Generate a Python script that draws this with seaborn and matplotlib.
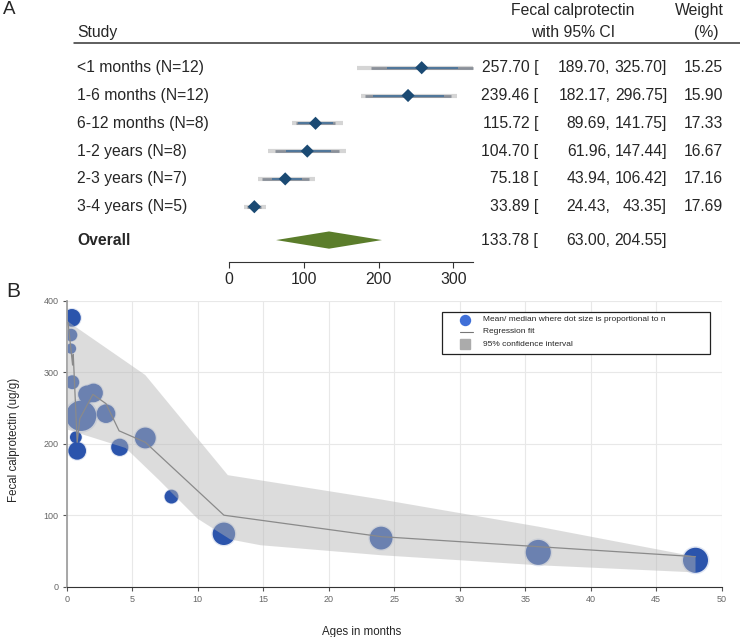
import numpy as np
import seaborn as sns
import matplotlib.pyplot as plt
from matplotlib.patches import Rectangle

sns.set_theme(style="white")
plt.rcParams["font.family"] = ["Liberation Sans", "DejaVu Sans"]

# ---- panel A: forest plot ----
studies = ["<1 months (N=12)", "1-6 months (N=12)", "6-12 months (N=8)",
           "1-2 years (N=8)", "2-3 years (N=7)", "3-4 years (N=5)"]
est = [257.70, 239.46, 115.72, 104.70, 75.18, 33.89]
ci_lo = [189.70, 182.17, 89.69, 61.96, 43.94, 24.43]
ci_hi = [325.70, 296.75, 141.75, 147.44, 106.42, 43.35]
weight = [15.25, 15.90, 17.33, 16.67, 17.16, 17.69]
# light grey outer bar and blue inner segment
outer_lo = [171, 176, 84, 52, 39, 20]
outer_hi = [327, 305, 153, 157, 115, 49]
inner_lo = [211, 193, 92, 76, 57, 27]
inner_hi = [306, 287, 139, 136, 98, 41]
overall_est, overall_lo, overall_hi = 133.78, 63.00, 204.55
forest_ticks = [0, 100, 200, 300]

# ---- panel B: calprotectin by age ----
age = [0.4, 0.33, 0.33, 0.43, 1.1, 0.7, 0.8, 1.55, 2.05, 3.0, 4.05,
       6.0, 8.0, 12.0, 24.0, 36.0, 48.0]
fc = [376, 352, 333, 286, 239, 209, 190, 269, 271, 242, 195,
      208, 126, 74, 68, 48, 37]
dot_n = [18, 9, 6, 11, 53, 8, 18, 18, 20, 20, 17, 25, 11, 29, 30, 36, 36]

fit_age = [0.1, 0.45, 0.5, 0.8, 1.0, 2.0, 3.0, 4.0, 6.0, 12, 24, 36, 48]
fit_fc = [370, 310, 325, 202, 235, 269, 256, 218, 202, 100, 70, 56, 42]

band_up_age = [0, 6, 12.3, 24, 36, 48]
band_up = [372, 296, 156, 122, 84, 42]
band_lo_age = [0, 4.5, 7, 10, 12.5, 14.8, 24, 36, 48]
band_lo = [220, 194, 150, 95, 66, 58, 44, 30, 20]

W, H = 740, 637
fig = plt.figure(figsize=(W / 100, H / 100), dpi=100)

# forest axes covers the full width; x in data units, y in row units
px_per_unit = 0.7477
x0_px = 229
row0_px, row_px = 67.7, 27.8
top_h = 290
ax_a = fig.add_axes([0, 1 - top_h / H, 1, top_h / H])
ax_a.set_xlim(-x0_px / px_per_unit, (W - x0_px) / px_per_unit)
ax_a.set_ylim((top_h - row0_px) / row_px, -row0_px / row_px)
trans = ax_a.get_yaxis_transform()
rows = np.arange(len(studies))

ax_a.hlines(rows, outer_lo, outer_hi, color="#d5d5d5", lw=3.0, zorder=1)
ax_a.hlines(rows, ci_lo, ci_hi, color="#8a9099", lw=2.0, zorder=2)
ax_a.hlines(rows, inner_lo, inner_hi, color="#3f6f9b", lw=1.1, zorder=3)
sns.scatterplot(x=est, y=rows, marker="D", s=45, color="#1b4a73",
                edgecolor="none", ax=ax_a, zorder=4, legend=False)

y_ov = 6.2
hh = 0.31
ax_a.fill([overall_lo, overall_est, overall_hi, overall_est],
          [y_ov, y_ov - hh, y_ov, y_ov + hh], color="#5b7d2b", lw=0)

fs = 11.3
for i, lab in enumerate(studies):
    ax_a.text(77 / W, i, lab, transform=trans, va="center", fontsize=fs)
    ax_a.text(538 / W, i, "%.2f [" % est[i], transform=trans, ha="right",
              va="center", fontsize=fs)
    ax_a.text(610.6 / W, i, "%.2f," % ci_lo[i], transform=trans, ha="right",
              va="center", fontsize=fs)
    ax_a.text(667 / W, i, "%.2f]" % ci_hi[i], transform=trans, ha="right",
              va="center", fontsize=fs)
    ax_a.text(723 / W, i, "%.2f" % weight[i], transform=trans, ha="right",
              va="center", fontsize=fs)
ax_a.text(77 / W, y_ov, "Overall", transform=trans, va="center",
          fontsize=fs, fontweight="bold")
ax_a.text(538 / W, y_ov, "%.2f [" % overall_est, transform=trans, ha="right",
          va="center", fontsize=fs)
ax_a.text(610.6 / W, y_ov, "%.2f," % overall_lo, transform=trans, ha="right",
          va="center", fontsize=fs)
ax_a.text(667 / W, y_ov, "%.2f]" % overall_hi, transform=trans, ha="right",
          va="center", fontsize=fs)

# headers
ax_a.text(77 / W, -1.27, "Study", transform=trans, va="center", fontsize=fs)
ax_a.text(573 / W, -2.07, "Fecal calprotectin", transform=trans, ha="center",
          va="center", fontsize=fs)
ax_a.text(573 / W, -1.27, "with 95% CI", transform=trans, ha="center",
          va="center", fontsize=fs)
ax_a.text(699.4 / W, -2.07, "Weight", transform=trans, ha="center",
          va="center", fontsize=fs)
ax_a.text(706.5 / W, -1.27, "(%)", transform=trans, ha="center",
          va="center", fontsize=fs)
ax_a.plot([74.2 / W, 1], [-0.9, -0.9], transform=trans, color="#333333",
          lw=1.1, clip_on=False)

for sp in ["top", "right", "left"]:
    ax_a.spines[sp].set_visible(False)
ax_a.spines["bottom"].set_position(("data", 7.0))
ax_a.spines["bottom"].set_bounds(0, 325.8)
ax_a.spines["bottom"].set_color("#333333")
ax_a.spines["bottom"].set_linewidth(0.8)
ax_a.set_xticks(forest_ticks)
ax_a.set_yticks([])
ax_a.tick_params(axis="x", bottom=True, direction="out", length=4, width=0.8,
                 color="#333333", labelsize=fs, pad=3)
ax_a.set_facecolor("none")

fig.text(3 / W, 1 - 10 / H, "A", fontsize=13.5, va="center", ha="left")
fig.text(6.7 / W, 1 - 291.5 / H, "B", fontsize=15, va="center", ha="left")

# ---- panel B ----
ax_b = fig.add_axes([66.7 / W, 1 - 586.7 / H, 655 / W, 286 / H])
s_max = 9.0 * max(dot_n)
# soft shadow under the dots
sns.scatterplot(x=age, y=fc, size=dot_n, sizes=(0, s_max * 1.25),
                size_norm=(0, max(dot_n)), color="#2b54ac", edgecolor="none",
                alpha=0.15, legend=False, ax=ax_b, zorder=1.9)
sns.scatterplot(x=age, y=fc, size=dot_n, sizes=(0, s_max),
                size_norm=(0, max(dot_n)), color="#2b54ac", edgecolor="none",
                legend=False, ax=ax_b, zorder=2)
ax_b.fill(np.concatenate([band_up_age, band_lo_age[::-1]]),
          np.concatenate([band_up, band_lo[::-1]]),
          color="#b6b6b6", alpha=0.465, lw=0, zorder=3)
sns.lineplot(x=fit_age, y=fit_fc, color="#8a8a8a", lw=0.9, estimator=None,
             sort=False, ax=ax_b, zorder=4)

ax_b.set_xlim(0, 50)
ax_b.set_ylim(0, 400)
ax_b.set_xticks(range(0, 51, 5))
ax_b.set_yticks(range(0, 401, 100))
ax_b.grid(True, color="#e8e8e8", lw=0.8)
ax_b.set_axisbelow(True)
for sp in ["top", "right"]:
    ax_b.spines[sp].set_visible(False)
ax_b.spines["left"].set_color("#a0a0a0")
ax_b.spines["left"].set_linewidth(1.3)
ax_b.spines["bottom"].set_color("#333333")
ax_b.spines["bottom"].set_linewidth(0.8)
ax_b.tick_params(left=True, bottom=True, direction="out", length=3,
                 width=0.8, color="#555555", labelsize=6.5,
                 labelcolor="#666666", pad=3)
ax_b.set_xlabel("Ages in months", fontsize=8.3)
ax_b.set_ylabel("Fecal calprotectin (ug/g)", fontsize=8.3)
ax_b.xaxis.set_label_coords(0.45, -0.136)
ax_b.yaxis.set_label_coords(-0.072, 0.513)

# legend box
ax_b.add_patch(Rectangle((0.5734, 0.8136), 0.4087, 0.1479,
                         transform=ax_b.transAxes, facecolor="white",
                         edgecolor="#222222", lw=0.9, zorder=6))
ax_b.plot([0.6081], [0.9336], "o", transform=ax_b.transAxes,
          color="#3f6fd8", ms=7.2, zorder=7)
ax_b.plot([0.6003, 0.6208], [0.8906, 0.8906], transform=ax_b.transAxes,
          color="#777777", lw=0.8, zorder=7)
ax_b.plot([0.6081], [0.8476], "s", transform=ax_b.transAxes,
          color="#ababab", ms=7, zorder=7)
leg_txt = ["Mean/ median where dot size is proportional to n",
           "Regression fit", "95% confidence interval"]
for t, yy in zip(leg_txt, [0.9336, 0.8906, 0.8476]):
    ax_b.text(0.6363, yy, t, transform=ax_b.transAxes, fontsize=6,
              va="center", zorder=7)

fig.savefig("out.png", dpi=100)
